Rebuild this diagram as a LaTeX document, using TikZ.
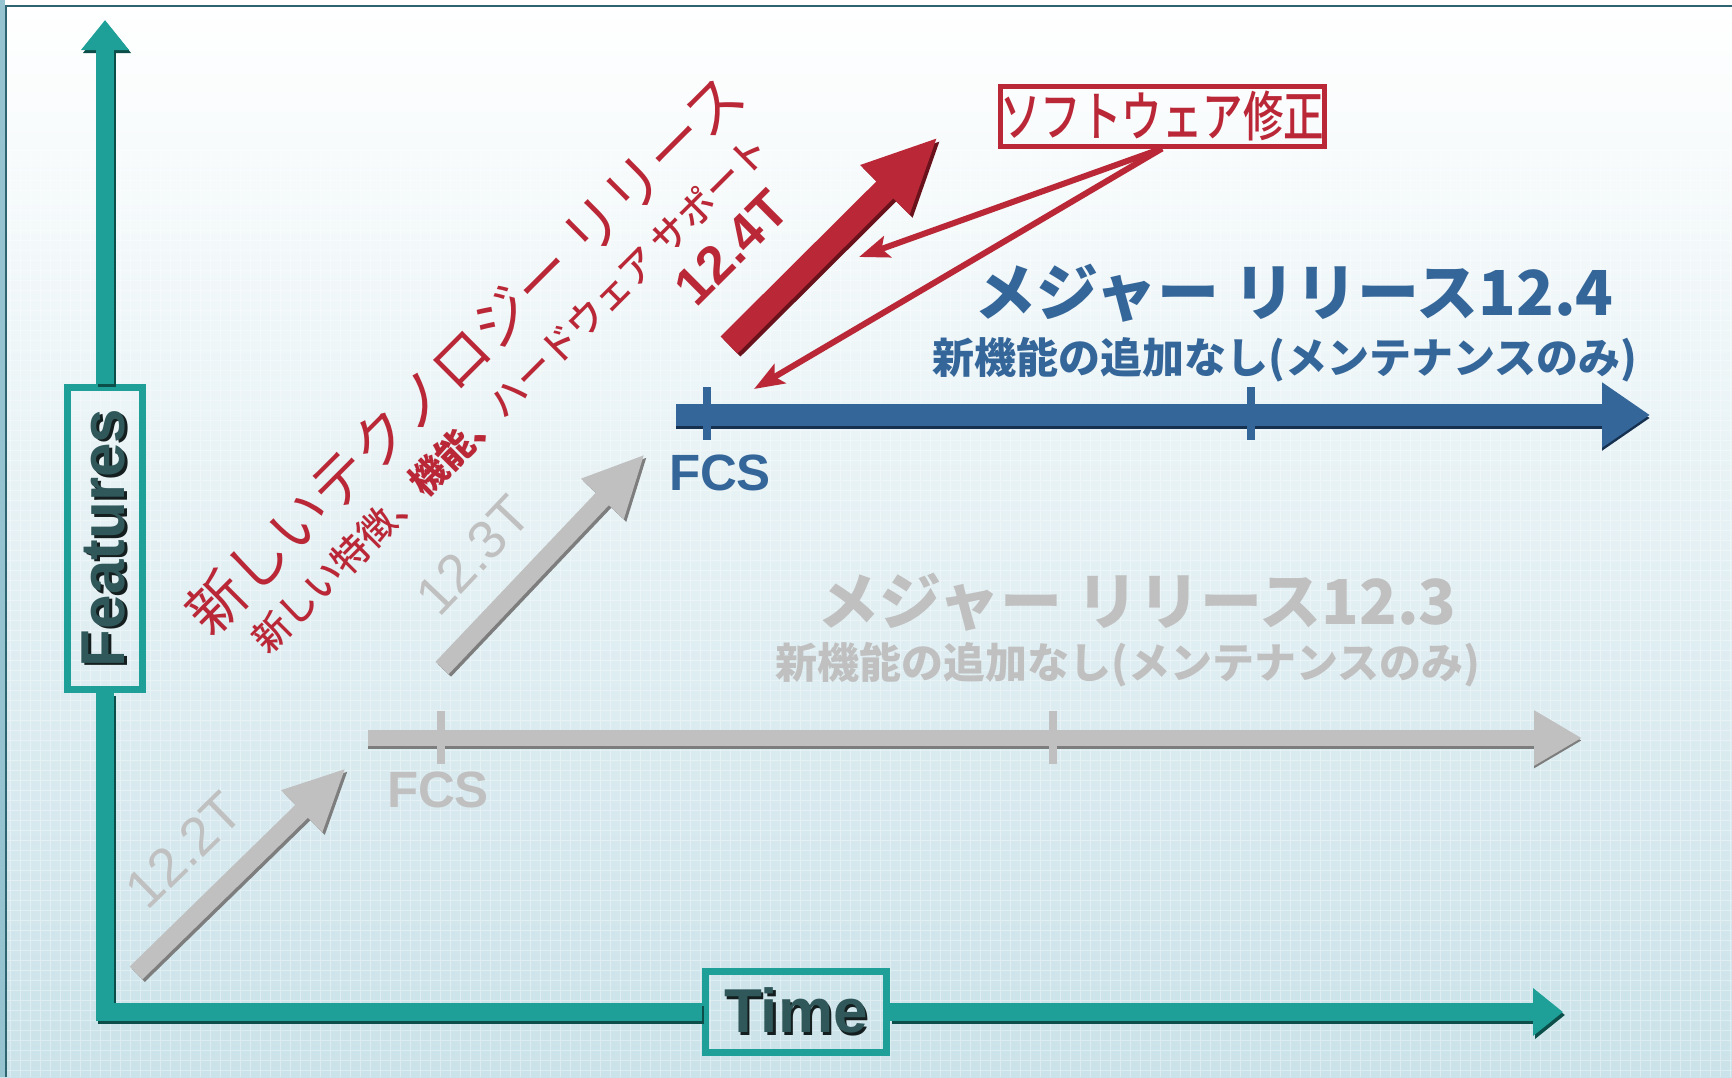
\documentclass[tikz,border=0pt]{standalone}
\usepackage{fontspec}
\setmainfont{Liberation Sans}
\newfontfamily\jp{Noto Sans CJK JP}
\newfontfamily\jpmed{Noto Sans CJK JP Medium}
\usetikzlibrary{arrows.meta}

\definecolor{bgmid}{RGB}{232,243,246}
\definecolor{bgblue}{RGB}{202,226,233}
\definecolor{bgleft}{RGB}{150,195,208}
\definecolor{framecol}{RGB}{45,100,112}
\definecolor{axisteal}{RGB}{30,160,152}
\definecolor{axisdark}{RGB}{12,78,74}
\definecolor{lbltext}{RGB}{48,88,90}
\definecolor{lblshadow}{RGB}{20,30,30}
\definecolor{relred}{RGB}{186,40,56}
\definecolor{relreddark}{RGB}{105,18,28}
\definecolor{relblue}{RGB}{52,102,153}
\definecolor{relbluedark}{RGB}{22,48,80}
\definecolor{relgray}{RGB}{192,192,192}
\definecolor{relgraydark}{RGB}{125,125,125}

\newcommand\fsz[1]{\fontsize{#1}{#1}\selectfont}
\newcommand\shadowtext[3]{\makebox[0pt][l]{\raisebox{#2}{\hspace{#1}\textcolor{lblshadow}{#3}}}#3}

\tikzset{
  axis/.style={line width=18pt, draw=axisteal},
  axisshd/.style={line width=18pt, draw=axisdark, transform canvas={shift={(2pt,-3pt)}}},
  axistip/.style={-{Triangle[length=30pt,width=46pt]}},
  axisbox/.style={draw=axisteal, line width=7pt, inner sep=0pt, text=lbltext, font=\bfseries\fsz{62}},
  garrow/.style={draw=relgray, line width=18pt, -{Triangle[length=62pt,width=54pt]}},
  gshd/.style={garrow, draw=relgraydark, transform canvas={shift={(2.5pt,-2.5pt)}}},
  gline/.style={draw=relgray, line width=16pt, -{Triangle[length=48pt,width=52pt]}},
  glineshd/.style={gline, draw=relgraydark, transform canvas={shift={(0pt,-2.5pt)}}},
  bline/.style={draw=relblue, line width=22pt, -{Triangle[length=48pt,width=62pt]}},
  blineshd/.style={bline, draw=relbluedark, transform canvas={shift={(0pt,-3pt)}}},
  rarrow/.style={draw=relred, line width=24pt, -{Triangle[length=75pt,width=64pt]}},
  rshd/.style={rarrow, draw=relreddark, transform canvas={shift={(3pt,-3pt)}}},
  tick/.style={line width=8pt},
  ver/.style={inner sep=0pt, font=\fsz{54}},
  fcs/.style={inner sep=0pt, font=\bfseries\fsz{51}},
  majtitle/.style={inner sep=0pt, font=\jp\bfseries\fsz{62}},
  majsub/.style={inner sep=0pt, font=\jp\bfseries\fsz{42}},
  fixbox/.style={draw=relred, line width=5pt, minimum width=317, minimum height=60, inner sep=0pt, text=relred, font=\jpmed\fsz{54}},
  fixarrow/.style={draw=relred, line width=6pt, -{Stealth[length=30pt,width=22pt,inset=6pt]}}
}

\begin{document}
\begin{tikzpicture}[x=1pt,y=-1pt]
% background
\useasboundingbox (0,0) rectangle (1732,1077);
\shade[top color=white, middle color=bgmid, bottom color=bgblue] (0,0) rectangle (1732,1077);
\draw[white, opacity=0.35, line width=0.6pt, step=10pt] (0,150) grid (1732,1077);
\fill[bgleft] (0,0) rectangle (5,1077);
\draw[framecol, line width=2.5pt] (6,1077) -- (6,6) -- (1732,6);

% axes
\node[axisbox, minimum width=75, minimum height=302] (feat) at (105,538) {\rotatebox{90}{\shadowtext{-2.5pt}{-2.5pt}{Features}}};
\node[axisbox, minimum width=181, minimum height=81] (time) at (796,1012) {\shadowtext{2.5pt}{-2.5pt}{Time}};
\coordinate (ytip) at (105,20);
\coordinate (xtip) at (1563,1012);
\draw[axisshd, axistip] (feat.north) -- (ytip);
\draw[axis, axistip] (feat.north) -- (ytip);
\draw[axisshd] (feat.south) |- (time.west);
\draw[axis] (feat.south) |- (time.west);
\draw[axisshd, axistip] (time.east) -- (xtip);
\draw[axis, axistip] (time.east) -- (xtip);

% 12.2T, 12.3T
\coordinate (g2s) at (136,973);
\coordinate (g2e) at (346,768);
\coordinate (g3s) at (442,668);
\coordinate (g3e) at (645,454);
\draw[gshd] (g2s) -- (g2e);
\draw[garrow] (g2s) -- (g2e) node[pos=0.41, sloped, above=27pt, ver, text=relgray] (v122) {12.2T};
\draw[gshd] (g3s) -- (g3e);
\draw[garrow] (g3s) -- (g3e) node[pos=0.35, sloped, above=27pt, ver, text=relgray] (v123) {12.3T};

% major release 12.3
\coordinate (g3l) at (368,738);
\coordinate (g3r) at (1582,738);
\draw[glineshd] (g3l) -- (g3r);
\draw[gline] (g3l) -- (g3r);
\draw[tick, relgray] (441,711) -- (441,764);
\draw[tick, relgray] (1053,711) -- (1053,764);
\node[fcs, text=relgray] (fcs3) at (438,790) {FCS};
\node[majtitle, text=relgray] (maj123) at (1137,602) {メジャー リリース12.3};
\node[majsub, text=relgray] (nof123) at (1128,665) {新機能の追加なし(メンテナンスのみ)};

% major release 12.4
\coordinate (b4l) at (676,415);
\coordinate (b4r) at (1650,415);
\draw[blineshd] (b4l) -- (b4r);
\draw[bline] (b4l) -- (b4r);
\draw[tick, relblue] (707,387) -- (707,440);
\draw[tick, relblue] (1251,387) -- (1251,440);
\node[fcs, text=relblue] (fcs4) at (720,473) {FCS};
\node[majtitle, text=relblue] (maj124) at (1294,293) {メジャー リリース12.4};
\node[majsub, text=relblue] (nof124) at (1285,360) {新機能の追加なし(メンテナンスのみ)};

% 12.4T
\coordinate (r4s) at (729,345);
\coordinate (r4e) at (938,137);
\draw[rshd] (r4s) -- (r4e);
\draw[rarrow] (r4s) -- (r4e) node[pos=0.24, sloped, above=37pt, ver, font=\bfseries\fsz{53}, text=relred] (v124) {12.4T};

% software fix
\node[fixbox] (fix) at (1162,116) {\scalebox{0.75}[1]{ソフトウェア修正}};
\coordinate (fixa) at (859,257);
\coordinate (fixb) at (754,389);
\draw[fixarrow] (fix.south) -- (fixa);
\draw[fixarrow] (fix.south) -- (fixb);

% new technology release
\node[rotate=45, inner sep=0pt, font=\jp\fsz{58}, text=relred] (newrel) at (465,354) {新しいテクノロジー リリース};
\node[rotate=45, inner sep=0pt, font=\jpmed\fsz{37}, text=relred] (newfeat) at (510,394) {新しい特徴、{\jp\bfseries 機能、}ハードウェア サポート};
\end{tikzpicture}
\end{document}
